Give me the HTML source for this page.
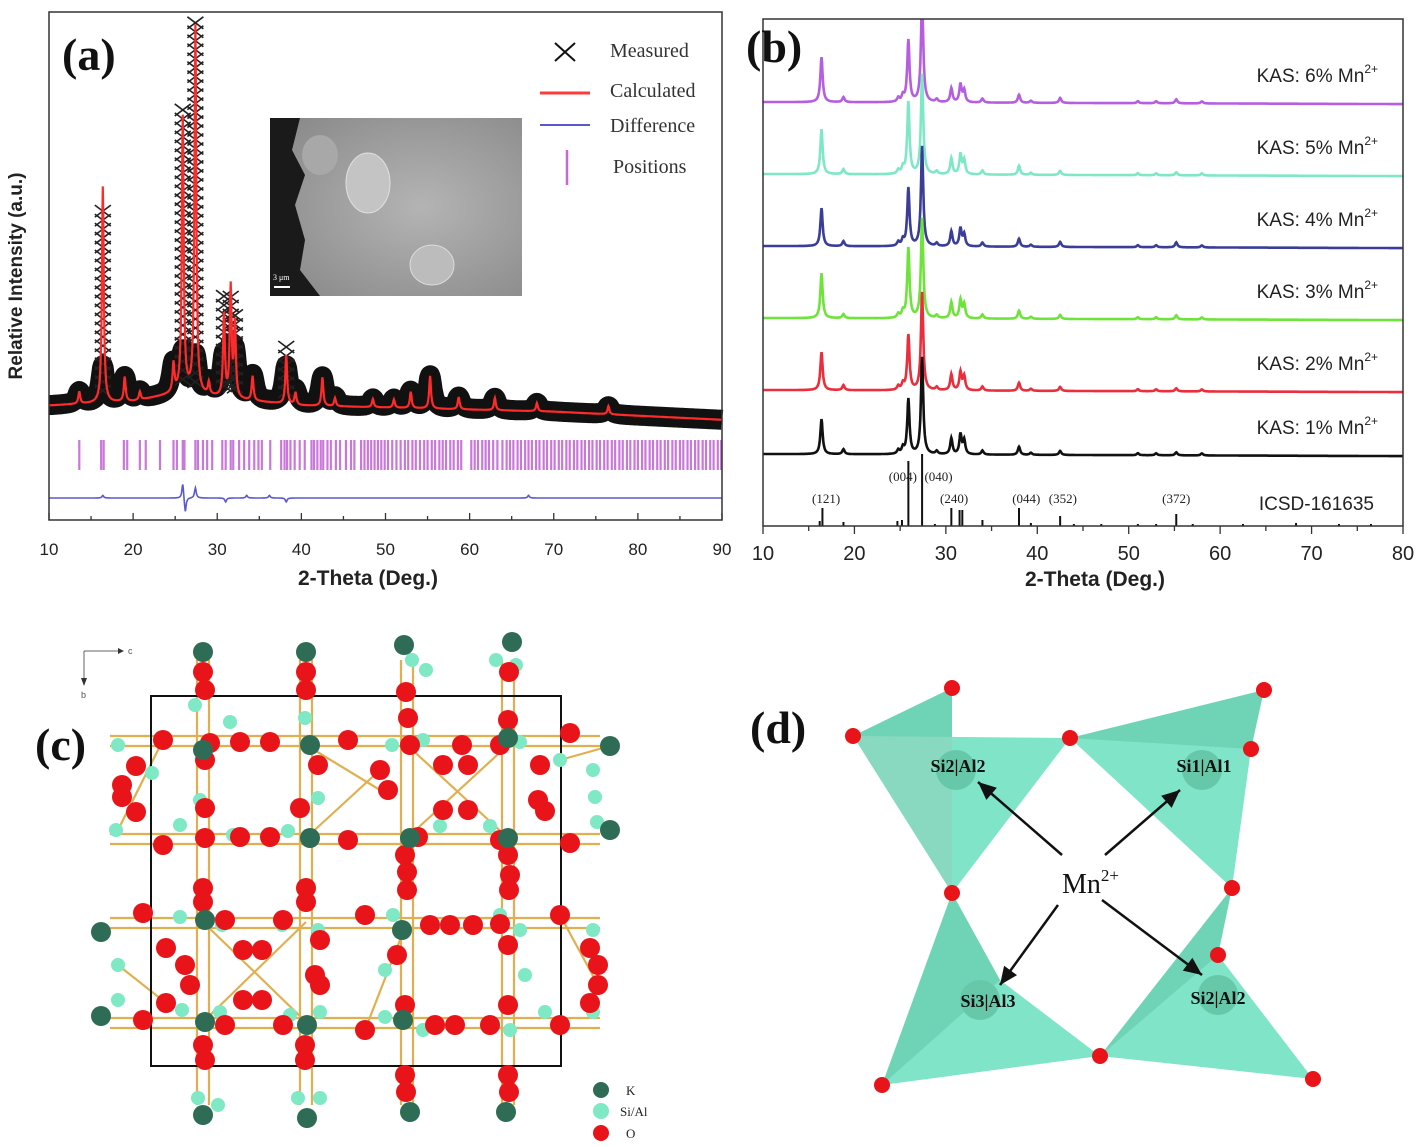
<!DOCTYPE html>
<html><head><meta charset="utf-8"><style>
html,body{margin:0;padding:0;background:#fff;}
svg{display:block;}
.sans{font-family:"Liberation Sans",sans-serif;}
.serif{font-family:"Liberation Serif",serif;}
</style></head><body>
<svg id="fig" width="1422" height="1147" viewBox="0 0 1422 1147" xmlns="http://www.w3.org/2000/svg">
<g id="pa"></g>
<g id="pb"></g>
<g id="pc"></g>
<g id="pd"></g>
</svg>
<script>
// ---------- Panel (a) data ----------
const aTicks = [10,20,30,40,50,60,70,80,90];
const aBgX = [10,20,24,26,28,32,40,50,60,70,80,90];
const aBgY = [6,7,8.5,9.5,8.5,7.5,6,5.5,5,4.5,3.5,2.5];
const aPeakPos = [13.6,16.4,19.0,20.8,24.8,25.9,27.4,29.0,30.8,31.6,32.1,34.2,38.2,39.3,42.5,44.0,48.5,51.0,53.0,55.3,58.7,63.0,68.0,76.5];
const aPeakInt = [3,53,6,2,7,67,90,3,20,27,18,6,12,3,7,2,2,2,4,8,3,3,2,2];
const aMeasInt = [3,48,6,2,7,70,92,3,25,25,22,6,14,3,7,2,2,2,4,8,3,3,2,2];
const aPositions = [13.6,16.2,16.5,18.9,19.3,20.8,21.5,23.2,24.8,25.2,25.9,26.1,27.4,27.7,28.3,28.8,29.4,30.6,31.0,31.6,31.9,32.6,33.2,33.8,34.4,34.9,35.3,36.3,37.6,38.0,38.3,38.7,39.2,39.8,40.4,41.2,41.5,41.9,42.3,42.6,43.1,43.5,44.1,44.6,45.3,45.9,46.3,47.1,47.5,47.9,48.3,48.7,49.1,49.5,49.9,50.3,50.8,51.3,51.8,52.3,52.7,53.2,53.6,54.1,54.6,55.0,55.5,55.9,56.4,56.8,57.2,57.7,58.1,58.6,59.0,60.2,60.6,61.0,61.5,61.9,62.3,62.8,63.3,63.9,64.4,64.8,65.2,65.7,66.1,66.6,67.0,67.4,67.9,68.3,68.8,69.2,69.7,70.1,70.6,71.0,71.5,71.9,72.4,72.8,73.3,73.7,74.2,74.6,75.1,75.5,76.0,76.4,76.9,77.3,77.8,78.2,78.7,79.1,79.6,80.0,80.5,80.9,81.4,81.8,82.3,82.7,83.2,83.6,84.1,84.5,85.0,85.4,85.9,86.3,86.8,87.2,87.7,88.1,88.6,89.0,89.5,89.9];
const aDiffPos = [16.4,25.9,26.2,27.4,31.0,33.5,36.2,38.2,67.0];
const aDiffVal = [2,12,-12,8,-3,2,2,-3,2];

// ---------- Panel (b) data ----------
const bTicks = [10,20,30,40,50,60,70,80];
const bPeakPos = [16.4,18.8,24.8,25.3,25.9,27.4,29.0,30.6,31.6,32.0,34.0,38.0,39.3,42.5,51.0,53.0,55.2,58.0];
const bSeriesNames = ["KAS: 6% Mn","KAS: 5% Mn","KAS: 4% Mn","KAS: 3% Mn","KAS: 2% Mn","KAS: 1% Mn"];
const bSeriesColors = ["#b65ee0","#7ee8c6","#3a3e98","#6ee43a","#ea2e3c","#111111"];
const bOffsets = [78,150,222,294,366,430];
const bInt6 = [45,5,4,6,62,105,3,14,18,12,4,8,2,5,2,2,4,2];
const bInt5 = [45,5,4,6,72,100,3,16,20,14,4,9,2,4,2,2,3,2];
const bInt4 = [38,5,4,6,58,100,3,15,18,12,4,8,2,5,2,2,5,2];
const bInt3 = [45,4,4,6,70,100,3,16,18,14,4,8,2,4,2,2,4,2];
const bInt2 = [38,5,4,6,55,98,3,16,18,14,4,8,2,4,2,2,3,2];
const bInt1 = [35,5,4,6,55,97,3,16,20,14,4,8,2,4,2,2,3,2];
const bSticksPos = [16.2,16.5,18.8,24.7,25.2,25.9,27.4,28.8,30.6,31.5,31.8,34.0,38.0,39.3,42.5,44.0,47.0,51.0,53.0,55.2,57.0,62.5,68.3,73.0,76.5];
const bSticksInt = [5,18,4,5,6,65,72,2,18,16,16,6,18,3,10,2,2,2,2,12,2,2,3,2,2];
const bHkl = ["(121)","(004)","(040)","(240)","(044)","(352)","(372)"];
const bHklPos = [16.9,25.3,29.2,30.9,38.8,42.8,55.2];
const bHklLevel = [1,0,0,1,1,1,1];

const NS="http://www.w3.org/2000/svg";
function mk(parent, tag, attrs, text){
  const e=document.createElementNS(NS,tag);
  for(const k in attrs) e.setAttribute(k,attrs[k]);
  if(text!==undefined) e.textContent=text;
  parent.appendChild(e); return e;
}
function interp(xs,ys,t){
  if(t<=xs[0]) return ys[0];
  for(let i=1;i<xs.length;i++){ if(t<=xs[i]){const f=(t-xs[i-1])/(xs[i]-xs[i-1]); return ys[i-1]+f*(ys[i]-ys[i-1]);} }
  return ys[ys.length-1];
}
function prof(pos,ints,t,w){let s=0;for(let i=0;i<pos.length;i++){const d=(t-pos[i])/w;s+=ints[i]/(1+d*d);}return s;}

// ================= Panel A =================
(function(){
const g=document.getElementById('pa');
const L=49,R=722,T=12,B=520;
const xa=t=>L+(t-10)/80*(R-L);
const ya=v=>430-v*4.08;
const smallInt=aMeasInt.map(v=>Math.min(v,9));
let pts=[];
for(let t=10;t<=90.001;t+=0.1){const v=interp(aBgX,aBgY,t)+prof(aPeakPos,smallInt,t,0.35);pts.push(xa(t).toFixed(1)+','+ya(v).toFixed(1));}
let e=mk(g,'polyline',{points:pts.join(' '),fill:'none',stroke:'#111',"stroke-width":20,"stroke-linejoin":"round","stroke-linecap":"butt"});


const cg=mk(g,'g',{stroke:'#222',"stroke-width":1.6,fill:'none'});


for(let i=0;i<aPeakPos.length;i++){
  if(aMeasInt[i]<10) continue;
  const base=interp(aBgX,aBgY,aPeakPos[i]);
  const top=base+aMeasInt[i];
  for(let v=base+3;v<=top;v+=2.2){
    const cx=xa(aPeakPos[i]),cy=ya(v);
    mk(cg,'path',{d:`M${cx-8},${cy-6}L${cx+8},${cy+6}M${cx-8},${cy+6}L${cx+8},${cy-6}`});
  }
}
pts=[];
for(let t=10;t<=90.001;t+=0.05){const v=interp(aBgX,aBgY,t)+prof(aPeakPos,aPeakInt,t,0.13);pts.push(xa(t).toFixed(1)+','+ya(v).toFixed(1));}
e=mk(g,'polyline',{points:pts.join(' '),fill:'none',stroke:'#ff2a2a',"stroke-width":2.2});


const pg=mk(g,'g',{stroke:'#c46ad6',"stroke-width":2.2,opacity:0.9});


aPositions.forEach(p=>mk(pg,'line',{x1:xa(p),x2:xa(p),y1:440,y2:470}));
pts=[];
for(let t=10;t<=90.001;t+=0.05){const v=prof(aDiffPos,aDiffVal,t,0.12);pts.push(xa(t).toFixed(1)+','+(498-v*1.3).toFixed(1));}
e=mk(g,'polyline',{points:pts.join(' '),fill:'none',stroke:'#5a5ad0',"stroke-width":1.6});


e=mk(g,'rect',{x:L,y:T,width:R-L,height:B-T,fill:'none',stroke:'#333',"stroke-width":1.5});


for(let t=10;t<=90;t+=5){mk(g,'line',{x1:xa(t),x2:xa(t),y1:B,y2:B-(t%10===0?7:4),stroke:'#333',"stroke-width":1.3});}
aTicks.forEach(t=>{const tx=mk(g,'text',{x:xa(t),y:555,"text-anchor":"middle","font-size":17,class:'sans',fill:'#222'},String(t));
});
})();

// ================= Panel B =================
(function(){
const g=document.getElementById('pb');
const L=763,R=1403,T=19,B=526;
const xb=t=>L+(t-10)/70*(R-L);
const clip=mk(g,'clipPath',{id:'bclip'});mk(clip,'rect',{x:L,y:T,width:R-L,height:B-T});
const sg=mk(g,'g',{"clip-path":'url(#bclip)'});
const ints=[bInt6,bInt5,bInt4,bInt3,bInt2,bInt1];
for(let s=0;s<6;s++){
  let pts=[];
  for(let t=10;t<=80.001;t+=0.05){const v=prof(bPeakPos,ints[s],t,0.15)-(t-10)*0.03;pts.push(xb(t).toFixed(1)+','+(bOffsets[s]+24-v).toFixed(1));}
  const e=mk(sg,'polyline',{points:pts.join(' '),fill:'none',stroke:bSeriesColors[s],"stroke-width":2.6});
  
  
  const lb=mk(g,'text',{x:1378,y:bOffsets[s]+4,"text-anchor":"end","font-size":19,class:'sans',fill:'#222'});
  
  
  lb.appendChild(document.createTextNode(bSeriesNames[s]));
  mk(lb,'tspan',{dy:-9,"font-size":12},'2+');
}
const stg=mk(g,'g',{stroke:'#111',"stroke-width":2});


bSticksPos.forEach((p,i)=>mk(stg,'line',{x1:xb(p),x2:xb(p),y1:B,y2:B-bSticksInt[i]}));
bHkl.forEach((h,i)=>{const t=mk(g,'text',{x:xb(bHklPos[i]),y:bHklLevel[i]?503:481,"text-anchor":"middle","font-size":13,class:'serif',fill:'#222'},h);
});
let e=mk(g,'text',{x:1374,y:510,"text-anchor":"end","font-size":19,class:'sans',fill:'#222'},'ICSD-161635');

e=mk(g,'rect',{x:L,y:T,width:R-L,height:B-T,fill:'none',stroke:'#333',"stroke-width":1.5});

for(let t=10;t<=80;t+=5){mk(g,'line',{x1:xb(t),x2:xb(t),y1:B,y2:B+(t%10===0?8:5),stroke:'#333',"stroke-width":1.3});}
bTicks.forEach(t=>{const tx=mk(g,'text',{x:xb(t),y:560,"text-anchor":"middle","font-size":20,class:'sans',fill:'#222'},String(t));
});
})();

// ================= Panel C =================
(function(){
const g=document.getElementById('pc');
const O=[[203,672],[205,690],[306,672],[306,690],[406,692],[509,672],[408,718],[508,720],
[163,740],[210,743],[240,742],[270,742],[348,740],[410,745],[462,745],[500,745],[570,733],
[136,766],[122,785],[122,797],[136,812],[205,760],[318,765],[380,770],[388,790],[443,765],[468,765],[443,810],[468,810],[540,765],[538,800],[545,811],[300,808],[205,808],
[163,845],[205,838],[240,837],[270,837],[348,840],[418,837],[500,840],[570,843],
[405,855],[407,872],[508,855],[510,875],[203,888],[203,902],[306,888],[306,902],[407,890],[509,890],
[143,913],[225,920],[283,920],[365,915],[430,925],[450,925],[473,925],[500,924],[560,915],
[166,948],[185,965],[190,985],[166,1003],[243,950],[262,950],[243,1000],[262,1000],[320,940],[315,975],[320,985],[397,955],[405,1005],[508,945],[508,1005],[590,948],[598,965],[598,985],[590,1003],
[143,1020],[225,1025],[283,1025],[365,1030],[435,1025],[455,1025],[490,1025],[560,1025],
[203,1045],[205,1060],[305,1045],[305,1060],[405,1075],[406,1092],[508,1075],[509,1092]];
const K=[[203,652],[306,652],[404,645],[512,642],[203,750],[310,745],[508,738],[610,746],[310,838],[410,838],[508,838],[610,830],[205,920],[402,930],[101,932],[101,1016],[205,1022],[307,1025],[403,1020],[203,1115],[307,1118],[410,1112],[506,1112]];
const S=[[195,705],[230,722],[305,718],[412,660],[426,670],[496,660],[516,665],[118,745],[152,773],[180,825],[116,830],[200,800],[233,835],[288,831],[318,798],[392,745],[423,740],[440,826],[490,826],[520,742],[560,760],[593,770],[595,797],[597,822],
[180,917],[222,925],[282,925],[318,930],[393,915],[500,915],[520,930],[593,930],[118,965],[118,1000],[385,970],[525,975],[593,1012],[182,1010],[220,1012],[290,1015],[320,1012],[385,1017],[423,1030],[510,1030],[545,1012],[198,1098],[218,1105],[298,1098],[320,1098]];
const bg=mk(g,'g',{stroke:'#e0b050',"stroke-width":2.2});

const cols=[203,306,407,508],rows=[740,838,922,1022];
cols.forEach(x=>{mk(bg,'line',{x1:x-6,y1:660,x2:x-6,y2:1105});mk(bg,'line',{x1:x+6,y1:660,x2:x+6,y2:1105});});
rows.forEach(y=>{mk(bg,'line',{x1:110,y1:y-4,x2:600,y2:y-4});mk(bg,'line',{x1:110,y1:y+6,x2:600,y2:y+6});});
[[407,745,508,838],[508,745,407,838],[203,922,306,1022],[306,922,203,1022],[306,745,380,790],[163,740,118,830],[560,760,610,746],[118,965,166,1003],[560,915,598,985],[306,838,380,770],[407,922,365,1030]].forEach(l=>mk(bg,'line',{x1:l[0],y1:l[1],x2:l[2],y2:l[3]}));
const frame=mk(g,'rect',{x:151,y:696,width:410,height:370,fill:'none',stroke:'#111',"stroke-width":2});

const ag=mk(g,'g',{});
S.forEach(p=>mk(ag,'circle',{cx:p[0],cy:p[1],r:7,fill:'#7fe8c4'}));
O.forEach(p=>mk(ag,'circle',{cx:p[0],cy:p[1],r:10,fill:'#e8141a'}));
K.forEach(p=>mk(ag,'circle',{cx:p[0],cy:p[1],r:10,fill:'#2f6c55'}));
mk(g,'path',{d:'M84,651 L84,678 M84,651 L118,651',stroke:'#666',"stroke-width":1,fill:'none'});
mk(g,'path',{d:'M118,648 L124,651 L118,654Z M81,678 L84,686 L87,678Z',fill:'#333'});
mk(g,'text',{x:128,y:654,"font-size":9,class:'sans',fill:'#555'},'c');
mk(g,'text',{x:81,y:698,"font-size":9,class:'sans',fill:'#555'},'b');
const lg=mk(g,'g',{});
mk(lg,'circle',{cx:601,cy:1090,r:8,fill:'#2f6c55'});mk(lg,'text',{x:626,y:1095,"font-size":13,class:'serif',fill:'#222'},'K');
mk(lg,'circle',{cx:601,cy:1111,r:8,fill:'#7fe8c4'});mk(lg,'text',{x:620,y:1116,"font-size":13,class:'serif',fill:'#222'},'Si/Al');
mk(lg,'circle',{cx:601,cy:1133,r:8,fill:'#e8141a'});mk(lg,'text',{x:626,y:1138,"font-size":13,class:'serif',fill:'#222'},'O');
})();

// ================= Panel D =================
(function(){
const g=document.getElementById('pd');
const tets=[
 {v:[[952,688],[853,736],[1070,738],[952,893]],si:[956,770]},
 {v:[[1264,690],[1070,738],[1232,888],[1251,749]],si:[1202,770]},
 {v:[[952,893],[882,1085],[1100,1056],[1000,980]],si:[980,1000]},
 {v:[[1232,888],[1100,1056],[1313,1079],[1218,955]],si:[1218,995]}];
tets.forEach((t,i)=>{
  const tg=mk(g,'g',{});
  const v=t.v;
  mk(tg,'polygon',{points:v.map(p=>p.join(',')).join(' '),fill:'#7fe4c8'});
  mk(tg,'polygon',{points:[v[0],v[1],v[3]].map(p=>p.join(',')).join(' '),fill:'#6ccfb0',opacity:0.8});
  mk(tg,'circle',{cx:t.si[0],cy:t.si[1],r:20,fill:'#66c8a8'});
});
const Ov=[[952,688],[853,736],[1070,738],[1264,690],[1251,749],[952,893],[1232,888],[1218,955],[1100,1056],[882,1085],[1313,1079]];
Ov.forEach(p=>{const c=mk(g,'circle',{cx:p[0],cy:p[1],r:8,fill:'#e8141a'});});
const labels=[["Si2|Al2",958,772],["Si1|Al1",1204,772],["Si3|Al3",988,1007],["Si2|Al2",1218,1004]];
labels.forEach(l=>{const t=mk(g,'text',{x:l[1],y:l[2],"text-anchor":"middle","font-size":18,"font-weight":"bold",class:'serif',fill:'#111'},l[0]);});
[[1062,855,978,782],[1105,855,1180,790],[1058,905,1000,985],[1102,900,1202,975]].forEach(a=>{
  const l=mk(g,'line',{x1:a[0],y1:a[1],x2:a[2],y2:a[3],stroke:'#111',"stroke-width":2.5});
  
  mk(g,'path',{d:'M-18,-8 L0,0 L-18,8Z',fill:'#111',transform:`translate(${a[2]},${a[3]}) rotate(${Math.atan2(a[3]-a[1],a[2]-a[0])*180/Math.PI})`});
});
const mn=mk(g,'text',{x:1062,y:893,"font-size":28,class:'serif',fill:'#111'},'Mn');

mk(mn,'tspan',{dy:-12,"font-size":17},'2+');
})();
</script>
<script>
const fig=document.getElementById('fig');
fig.insertAdjacentHTML('beforeend',`
<g>
 <text x="62" y="70" font-size="46" font-weight="bold" class="serif" fill="#111">(a)</text>
 <text transform="translate(22,276) rotate(-90)" text-anchor="middle" font-size="19" font-weight="bold" class="sans" fill="#222">Relative Intensity (a.u.)</text>
 <text x="368" y="585" text-anchor="middle" font-size="21" font-weight="bold" class="sans" fill="#222">2-Theta (Deg.)</text>
 <g>
  <path d="M555,43 L575,61 M555,61 L575,43" stroke="#111" stroke-width="2"/>
  <text x="610" y="57" font-size="20" class="serif" fill="#333">Measured</text>
  <line x1="540" y1="93" x2="590" y2="93" stroke="#ff3a3a" stroke-width="3"/>
  <text x="610" y="97" font-size="20" class="serif" fill="#333">Calculated</text>
  <line x1="540" y1="125" x2="590" y2="125" stroke="#5a5ad0" stroke-width="2"/>
  <text x="610" y="132" font-size="20" class="serif" fill="#333">Difference</text>
  <line x1="567" y1="150" x2="567" y2="185" stroke="#c46ad6" stroke-width="2.5"/>
  <text x="613" y="173" font-size="20" class="serif" fill="#333">Positions</text>
 </g>
 <g>
  <defs><radialGradient id="semg" cx="0.6" cy="0.5" r="0.7"><stop offset="0" stop-color="#b4b4b4"/><stop offset="1" stop-color="#8a8a8a"/></radialGradient></defs>
  <rect x="270" y="118" width="252" height="178" fill="url(#semg)"/>
  <path d="M270,118 L300,118 L292,150 L305,175 L295,205 L305,240 L300,270 L320,296 L270,296Z" fill="#1a1a1a"/>
  <ellipse cx="368" cy="183" rx="22" ry="30" fill="#c4c4c4" stroke="#e0e0e0"/>
  <ellipse cx="432" cy="265" rx="22" ry="20" fill="#bcbcbc" stroke="#dcdcdc"/>
  <ellipse cx="320" cy="155" rx="18" ry="20" fill="#a8a8a8"/>
  <text x="273" y="280" font-size="8" class="serif" fill="#fff">3 μm</text>
  <line x1="274" y1="287" x2="290" y2="287" stroke="#fff" stroke-width="2"/>
 </g>
</g>
<g>
 <text x="746" y="62" font-size="46" font-weight="bold" class="serif" fill="#111">(b)</text>
 <text x="1095" y="586" text-anchor="middle" font-size="21" font-weight="bold" class="sans" fill="#222">2-Theta (Deg.)</text>
</g>
<text x="35" y="760" font-size="46" font-weight="bold" class="serif" fill="#111">(c)</text>
<text x="750" y="743" font-size="46" font-weight="bold" class="serif" fill="#111">(d)</text>
`);
</script>
</body></html>
